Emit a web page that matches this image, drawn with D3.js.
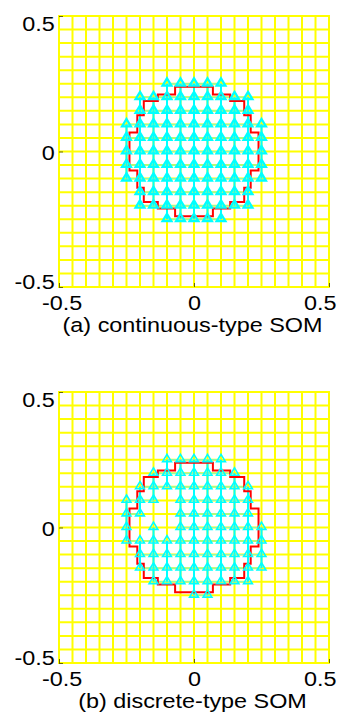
<!DOCTYPE html>
<html>
<head>
<meta charset="utf-8">
<script src="https://cdn.jsdelivr.net/npm/d3@7"></script>
<style>
  html, body { margin: 0; padding: 0; background: #fff; }
  svg { display: block; }
</style>
</head>
<body>
<svg id="fig" width="339" height="717"></svg>
<script>
// ---- data ---------------------------------------------------------------
const axisTicks = [-0.5, 0, 0.5];

// reference lattice (yellow)
const latticeLines = [-0.5, -0.45, -0.4, -0.35, -0.3, -0.25, -0.2, -0.15, -0.1, -0.05, 0,
                      0.05, 0.1, 0.15, 0.2, 0.25, 0.3, 0.35, 0.4, 0.45, 0.5];

// winning neurons, row by row: [y, x positions]
const continuousRows = [
  [0.25,  [-0.1, -0.05, 0, 0.05, 0.1]],
  [0.2,   [-0.2, -0.15, -0.1, -0.05, 0, 0.05, 0.1, 0.15, 0.2]],
  [0.15,  [-0.2, -0.15, -0.1, -0.05, 0, 0.05, 0.1, 0.15, 0.2]],
  [0.1,   [-0.25, -0.2, -0.15, -0.1, -0.05, 0, 0.05, 0.1, 0.15, 0.2, 0.25]],
  [0.05,  [-0.25, -0.2, -0.15, -0.1, -0.05, 0, 0.05, 0.1, 0.15, 0.2, 0.25]],
  [0,     [-0.25, -0.2, -0.15, -0.1, -0.05, 0, 0.05, 0.1, 0.15, 0.2, 0.25]],
  [-0.05, [-0.25, -0.2, -0.15, -0.1, -0.05, 0, 0.05, 0.1, 0.15, 0.2, 0.25]],
  [-0.1,  [-0.25, -0.2, -0.15, -0.1, -0.05, 0, 0.05, 0.1, 0.15, 0.2, 0.25]],
  [-0.15, [-0.2, -0.15, -0.1, -0.05, 0, 0.05, 0.1, 0.15, 0.2]],
  [-0.2,  [-0.2, -0.15, -0.1, -0.05, 0, 0.05, 0.1, 0.15, 0.2]],
  [-0.25, [-0.1, -0.05, 0, 0.05, 0.1]]
];

const discreteRows = [
  [0.25,  [-0.1, -0.05, 0, 0.05, 0.1]],
  [0.2,   [-0.15, -0.1, -0.05, 0, 0.05, 0.1, 0.15]],
  [0.15,  [-0.2, -0.15, -0.1, -0.05, 0, 0.05, 0.1, 0.15, 0.2]],
  [0.1,   [-0.25, -0.2, -0.15, -0.05, 0, 0.05, 0.1, 0.15, 0.2]],
  [0.05,  [-0.25, -0.2, -0.05, 0, 0.05, 0.1, 0.15, 0.2]],
  [0,     [-0.25, -0.15, -0.05, 0, 0.05, 0.1, 0.15, 0.2, 0.25]],
  [-0.05, [-0.25, -0.2, -0.15, -0.1, -0.05, 0, 0.05, 0.1, 0.15, 0.2, 0.25]],
  [-0.1,  [-0.2, -0.15, -0.1, -0.05, 0, 0.05, 0.1, 0.15, 0.2, 0.25]],
  [-0.15, [-0.2, -0.15, -0.1, -0.05, 0, 0.05, 0.1, 0.15, 0.2, 0.25]],
  [-0.2,  [-0.15, -0.1, -0.05, 0, 0.05, 0.1, 0.15, 0.2]],
  [-0.25, [0, 0.05]]
];

// target region outline (red staircase)
const boundaryX = [-0.07, 0.07, 0.07, 0.134, 0.134, 0.186, 0.186, 0.21, 0.21, 0.239,
                   0.239, 0.21, 0.21, 0.186, 0.186, 0.134, 0.134, 0.07, 0.07, -0.07,
                   -0.07, -0.134, -0.134, -0.186, -0.186, -0.21, -0.21, -0.239,
                   -0.239, -0.21, -0.21, -0.186, -0.186, -0.134, -0.134, -0.07];
const boundaryY = [0.239, 0.239, 0.21, 0.21, 0.186, 0.186, 0.134, 0.134, 0.07, 0.07,
                   -0.07, -0.07, -0.134, -0.134, -0.186, -0.186, -0.21, -0.21, -0.239, -0.239,
                   -0.21, -0.21, -0.186, -0.186, -0.134, -0.134, -0.07, -0.07,
                   0.07, 0.07, 0.134, 0.134, 0.186, 0.186, 0.21, 0.21];

const panelTitles = ["(a) continuous-type SOM", "(b) discrete-type SOM"];

// ---- drawing ------------------------------------------------------------
const svg = d3.select("#fig");
const FONT = "'Liberation Sans', Arial, Helvetica, sans-serif";
const FS = 19.5;      // font size
const SX = 1.2;       // horizontal stretch of the lettering

const panels = [
  { rows: continuousRows, top: 16,  bottom: 287, title: panelTitles[0], mark: 2.3 },
  { rows: discreteRows,   top: 392, bottom: 663, title: panelTitles[1], mark: 1.6 }
];

const key = v => Math.round(v * 1000);

panels.forEach(p => {
  const x = d3.scaleLinear().domain([-0.5, 0.5]).range([59, 329]);
  const y = d3.scaleLinear().domain([-0.5, 0.5]).range([p.bottom, p.top]);
  const g = svg.append("g");

  // yellow lattice
  g.append("g").selectAll("line").data(latticeLines).join("line")
    .attr("x1", d => x(d)).attr("x2", d => x(d))
    .attr("y1", y(-0.5) + 1).attr("y2", y(0.5) - 1)
    .attr("stroke", "#ffff00").attr("stroke-width", 2);
  g.append("g").selectAll("line").data(latticeLines).join("line")
    .attr("y1", d => y(d)).attr("y2", d => y(d))
    .attr("x1", x(-0.5) - 1).attr("x2", x(0.5) + 1)
    .attr("stroke", "#ffff00").attr("stroke-width", 2);

  // neuron list
  const nodes = [];
  p.rows.forEach(([yy, xs]) => xs.forEach(xx => nodes.push({ x: xx, y: yy })));
  const has = new Set(nodes.map(n => key(n.x) + "," + key(n.y)));
  const step = 0.05;

  // neighbour links
  const hLinks = [], vLinks = [];
  nodes.forEach(n => {
    if (has.has(key(n.x + step) + "," + key(n.y))) hLinks.push([n, { x: n.x + step, y: n.y }]);
    if (has.has(key(n.x) + "," + key(n.y - step))) vLinks.push([n, { x: n.x, y: n.y - step }]);
  });
  g.append("g").selectAll("line").data(hLinks).join("line")
    .attr("x1", d => x(d[0].x)).attr("x2", d => x(d[1].x))
    .attr("y1", d => y(d[0].y)).attr("y2", d => y(d[1].y))
    .attr("stroke", "#8af7b8").attr("stroke-width", 1.3);
  g.append("g").selectAll("line").data(vLinks).join("line")
    .attr("x1", d => x(d[0].x)).attr("x2", d => x(d[1].x))
    .attr("y1", d => y(d[0].y)).attr("y2", d => y(d[1].y))
    .attr("stroke", "#00ffff").attr("stroke-width", 2);

  // red outline
  const outline = boundaryX.map((bx, i) => [bx, boundaryY[i]]);
  g.append("path")
    .attr("d", d3.line().x(d => x(d[0])).y(d => y(d[1]))(outline) + "Z")
    .attr("fill", "none").attr("stroke", "#ff0000").attr("stroke-width", 2);

  // triangle markers
  const tri = "M0,-4.8L4.4,2.5L-4.4,2.5Z";
  g.append("g").selectAll("path").data(nodes).join("path")
    .attr("d", tri)
    .attr("transform", d => `translate(${x(d.x)},${y(d.y) - 0.6})`)
    .attr("fill", "none").attr("stroke", "#00ffff")
    .attr("stroke-width", p.mark).attr("stroke-linejoin", "miter");

  // axes
  const fmt = d => String(d);
  const ax = g.append("g").attr("transform", `translate(0,${p.bottom})`)
    .call(d3.axisBottom(x).tickValues(axisTicks).tickSizeInner(-4).tickSizeOuter(0)
      .tickFormat(fmt));
  const ay = g.append("g").attr("transform", `translate(59,0)`)
    .call(d3.axisLeft(y).tickValues(axisTicks).tickSizeInner(-4).tickSizeOuter(0)
      .tickFormat(fmt));
  [ax, ay].forEach(a => {
    a.select(".domain").remove();
    a.selectAll(".tick line").attr("stroke", "#000").attr("stroke-width", 0.6);
    a.selectAll(".tick text").attr("fill", "#000")
      .style("font-family", FONT).style("font-size", FS + "px");
  });
  ax.selectAll(".tick text")
    .attr("dy", 0).attr("y", 23.5)
    .attr("x", d => (d < 0 ? 2.7 : d > 0 ? -9.3 : 0) / SX)
    .attr("text-anchor", "middle")
    .attr("transform", `scale(${SX},1)`);
  ay.selectAll(".tick text")
    .attr("dy", 0).attr("y", d => 7.8 + 12.8 * d)
    .attr("x", -4.2 / SX)
    .attr("text-anchor", "end")
    .attr("transform", `scale(${SX},1)`);

  // panel caption
  g.append("text")
    .attr("transform", `translate(192.5,${p.bottom + 45}) scale(${SX},1)`)
    .attr("text-anchor", "middle")
    .style("font-family", FONT).style("font-size", FS + "px")
    .attr("fill", "#000")
    .text(p.title);
});
</script>
</body>
</html>
